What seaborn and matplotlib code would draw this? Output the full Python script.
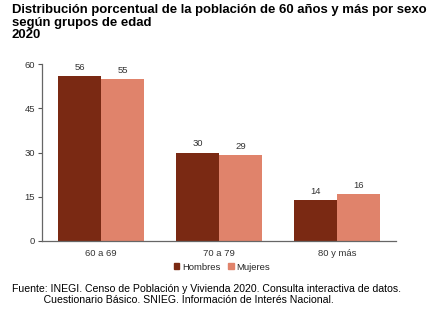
import matplotlib
matplotlib.use("Agg")
import matplotlib.pyplot as plt
import seaborn as sns
import pandas as pd

grupos = ["60 a 69", "70 a 79", "80 y más"]
hombres = [56, 30, 14]
mujeres = [55, 29, 16]
series = ["Hombres", "Mujeres"]
colores = ["#7A2913", "#E0836B"]
yticks = [0, 15, 30, 45, 60]

df = pd.DataFrame({
    "grupo": grupos * 2,
    "sexo": ["Hombres"] * 3 + ["Mujeres"] * 3,
    "valor": hombres + mujeres,
})

sns.set_style("white")
plt.rcParams["font.family"] = ["Liberation Sans", "DejaVu Sans"]

fig = plt.figure(figsize=(4.47, 3.21), dpi=100)
ax = fig.add_axes([42/447, 1-241/321, 354/447, 177/321])
sns.barplot(data=df, x="grupo", y="valor", hue="sexo", palette=colores,
            width=0.73, gap=0, ax=ax, legend=False, saturation=1,
            edgecolor="none", linewidth=0)
for c in ax.containers:
    ax.bar_label(c, fmt="%d", fontsize=6.8, padding=3, color="#333333")

ax.set_ylim(0, 60)
ax.set_xlim(-0.5, 2.5)
ax.set_yticks(yticks)
ax.set_yticklabels([str(t) for t in yticks], fontsize=6.8, color="#333333")
ax.tick_params(axis="y", length=3, width=0.8, color="#555555", left=True, pad=2)
ax.tick_params(axis="x", length=0, labelsize=6.8, labelcolor="#333333", pad=6)
ax.set_xlabel("")
ax.set_ylabel("")
for s in ["top", "right"]:
    ax.spines[s].set_visible(False)
for s in ["left", "bottom"]:
    ax.spines[s].set_color("#666666")
    ax.spines[s].set_linewidth(0.9)

handles = [plt.Rectangle((0, 0), 1, 1, color=c) for c in colores]
fig.legend(handles, series, loc="center", bbox_to_anchor=(222/447, 1-267/321),
           ncol=2, frameon=False, fontsize=6.8, handlelength=0.6, handleheight=0.6,
           handletextpad=0.3, columnspacing=0.8)

fig.text(12/447, 1-4/321, "Distribución porcentual de la población de 60 años y más por sexo\nsegún grupos de edad\n2020",
         ha="left", va="top", fontsize=9.45, fontweight="bold", linespacing=1.08, color="black")
fig.text(12/447, 1-284/321, "Fuente: INEGI. Censo de Población y Vivienda 2020. Consulta interactiva de datos.\n           Cuestionario Básico. SNIEG. Información de Interés Nacional.",
         ha="left", va="top", fontsize=7.6, linespacing=1.1, color="black")

fig.savefig("out.png", dpi=100)
